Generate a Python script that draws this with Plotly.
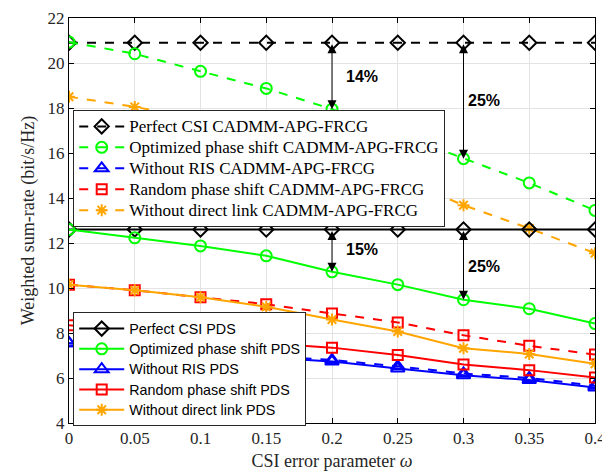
import plotly.graph_objects as go

omega = [0, 0.05, 0.1, 0.15, 0.2, 0.25, 0.3, 0.35, 0.4]

# CADMM-APG-FRCG (dashed)
perfect_cadmm = [20.9, 20.9, 20.9, 20.9, 20.9, 20.9, 20.9, 20.9, 20.9]
optimized_cadmm = [20.93, 20.41, 19.63, 18.87, 17.95, 16.85, 15.75, 14.67, 13.45]
noris_cadmm = [7.55, 7.32, 7.13, 6.95, 6.8, 6.52, 6.2, 6.0, 5.66]
random_cadmm = [10.15, 9.9, 9.59, 9.28, 8.87, 8.47, 7.9, 7.43, 7.04]
nodirect_cadmm = [18.5, 18.05, 17.5, 16.8, 16.0, 14.9, 13.68, 12.65, 11.55]

# PDS (solid)
perfect_pds = [12.6, 12.6, 12.6, 12.6, 12.6, 12.6, 12.6, 12.6, 12.6]
optimized_pds = [12.6, 12.23, 11.87, 11.43, 10.72, 10.15, 9.48, 9.08, 8.42]
noris_pds = [7.55, 7.3, 7.1, 6.9, 6.73, 6.42, 6.12, 5.91, 5.58]
random_pds = [8.35, 8.05, 7.8, 7.55, 7.35, 7.02, 6.6, 6.35, 6.02]
nodirect_pds = [10.15, 9.9, 9.59, 9.17, 8.6, 8.07, 7.32, 7.07, 6.63]

names_cadmm = ["Perfect CSI CADMM-APG-FRCG", "Optimized phase shift CADMM-APG-FRCG",
               "Without RIS CADMM-APG-FRCG", "Random phase shift CADMM-APG-FRCG",
               "Without direct link CADMM-APG-FRCG"]
names_pds = ["Perfect CSI PDS", "Optimized phase shift PDS", "Without RIS PDS",
             "Random phase shift PDS", "Without direct link PDS"]

colors = ["#000000", "#00FF00", "#0000FF", "#FF0000", "#FFA500"]
symbols = ["diamond-open", "circle-open", "triangle-up-open", "square-open", "asterisk-open"]
sizes = [11, 11, 12, 10, 10]

# gap annotations: x, top value, bottom value, label
gap_x = [0.2, 0.3, 0.2, 0.3]
gap_top = [20.9, 20.9, 12.6, 12.6]
gap_bot = [17.95, 15.75, 10.72, 9.48]
gap_labels = ["14%", "25%", "15%", "25%"]
label_x = [0.209, 0.302, 0.209, 0.302]
label_y = [19.4, 18.35, 11.7, 10.95]

SERIF = "Liberation Serif, Times New Roman, Times, serif"
SANS = "Liberation Sans, Arial, Helvetica, sans-serif"

fig = go.Figure()

cadmm = [perfect_cadmm, optimized_cadmm, noris_cadmm, random_cadmm, nodirect_cadmm]
pds = [perfect_pds, optimized_pds, noris_pds, random_pds, nodirect_pds]

for i in range(5):
    fig.add_trace(go.Scatter(
        x=omega, y=cadmm[i],
        name='<span style="font-size:17px">%s</span>' % names_cadmm[i],
        mode="lines+markers",
        line=dict(color=colors[i], width=2, dash="dash"),
        marker=dict(symbol=symbols[i], size=sizes[i], color=colors[i],
                    line=dict(color=colors[i], width=2)),
        legend="legend"))
for i in range(5):
    fig.add_trace(go.Scatter(
        x=omega, y=pds[i],
        name='<span style="font-size:14.3px">%s</span>' % names_pds[i],
        mode="lines+markers",
        line=dict(color=colors[i], width=2),
        marker=dict(symbol=symbols[i], size=sizes[i], color=colors[i],
                    line=dict(color=colors[i], width=2)),
        legend="legend2"))

for i in range(4):
    fig.add_annotation(x=gap_x[i], y=gap_bot[i], ax=gap_x[i], ay=gap_top[i],
                       xref="x", yref="y", axref="x", ayref="y", text="",
                       showarrow=True, arrowhead=2, startarrowhead=2,
                       arrowside="end+start", arrowsize=1.8, startarrowsize=1.8,
                       arrowwidth=1, arrowcolor="black")
    fig.add_annotation(x=label_x[i], y=label_y[i], xref="x", yref="y",
                       text="<b>%s</b>" % gap_labels[i], showarrow=False,
                       xanchor="left", yanchor="middle",
                       font=dict(family=SANS, size=16, color="black"))

axis_common = dict(showline=True, linecolor="black", linewidth=1, mirror="ticks",
                   ticks="inside", ticklen=5, tickcolor="black", automargin=False,
                   ticklabeloverflow="allow",
                   showgrid=True, gridcolor="#E3E3E3", gridwidth=1, zeroline=False,
                   tickfont=dict(family=SERIF, size=17, color="#262626"))

fig.update_layout(
    width=602, height=466,
    margin=dict(l=61, r=15, t=10, b=51),
    plot_bgcolor="white", paper_bgcolor="white",
    xaxis=dict(range=[0, 0.4], tickvals=omega,
               ticktext=["0", "0.05", "0.1", "0.15", "0.2", "0.25", "0.3", "0.35", "0.4"],
               title=dict(text="CSI error parameter <i>ω</i>", standoff=6,
                          font=dict(family=SERIF, size=18, color="#262626")),
               **axis_common),
    yaxis=dict(range=[4, 22], tickvals=[4, 6, 8, 10, 12, 14, 16, 18, 20, 22],
               title=dict(text="Weighted sum-rate (bit/s/Hz)", standoff=8,
                          font=dict(family=SERIF, size=18, color="#262626")),
               **axis_common),
    legend=dict(x=0.008, y=0.773, xanchor="left", yanchor="top",
                bgcolor="white", bordercolor="#262626", borderwidth=1,
                font=dict(family=SERIF, size=13.8, color="black"),
                tracegroupgap=0, itemwidth=45),
    legend2=dict(x=0.008, y=0.273, xanchor="left", yanchor="top",
                 bgcolor="white", bordercolor="#262626", borderwidth=1,
                 font=dict(family=SANS, size=13.3, color="black"),
                 tracegroupgap=0, itemwidth=45),
)

fig.write_html("out.html")
